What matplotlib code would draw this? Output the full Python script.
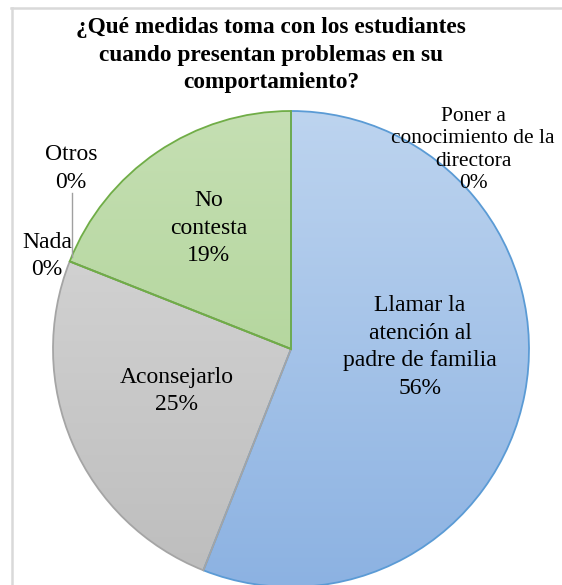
"""Pie chart: medidas que toma con los estudiantes cuando presentan problemas."""

import numpy as np
import matplotlib.pyplot as plt
from matplotlib.colors import LinearSegmentedColormap
from matplotlib.lines import Line2D

labels = ['Poner a\nconocimiento de la\ndirectora', 'Llamar la\natención al\npadre de familia',
          'Aconsejarlo', 'Nada', 'Otros', 'No\ncontesta']
values = [0, 56, 25, 0, 0, 19]
pct_labels = ['0%', '56%', '25%', '0%', '0%', '19%']

# gradient colours (top, bottom) and edge colour per slice
tops = ['#bdd4ef', '#bdd4ef', '#dadada', '#dadada', '#c5dfb3', '#c5dfb3']
bottoms = ['#8cb2e2', '#8cb2e2', '#bdbdbd', '#bdbdbd', '#a6cf8b', '#a6cf8b']
edges = ['#5b9bd5', '#5b9bd5', '#a5a5a5', '#a5a5a5', '#70ad47', '#70ad47']

plt.rcParams['font.family'] = ['Liberation Serif', 'DejaVu Serif']

fig = plt.figure(figsize=(5.62, 5.85), dpi=100)

# light frame (top and left edges only are visible)
fig.add_artist(Line2D([11 / 562, 1], [1 - 8 / 585, 1 - 8 / 585], color='#d9d9d9', lw=1.8))
fig.add_artist(Line2D([12 / 562, 12 / 562], [0, 1 - 8 / 585], color='#d9d9d9', lw=1.8))

ax = fig.add_axes([53 / 562, -2 / 585, 476 / 562, 476 / 585])
wedges, _ = ax.pie(values, startangle=90, counterclock=False, radius=1,
                   wedgeprops=dict(linewidth=1.3))

grad = np.linspace(0, 1, 256).reshape(-1, 1)
for w, t, b, e in zip(wedges, tops, bottoms, edges):
    w.set_facecolor('none')
    w.set_edgecolor(e)
    w.set_zorder(3)
    cmap = LinearSegmentedColormap.from_list('g', [t, b])
    im = ax.imshow(grad, extent=(-1, 1, -1, 1), origin='upper', cmap=cmap,
                   aspect='auto', zorder=1)
    im.set_clip_path(w)

ax.set_xlim(-1, 1)
ax.set_ylim(-1, 1)
ax.set_aspect('equal')
ax.axis('off')

# label positions in units of the radius
pos = [(0.765, 0.836), (0.542, 0.008), (-0.479, -0.176),
       (-1.025, 0.391), (-0.924, 0.758), (-0.345, 0.508)]
sizes = [15.4, 17, 17, 17, 17, 17]
spacing = [1.23, 1.4, 1.4, 1.4, 1.4, 1.4]
for lab, pct, (x, y), fs, ls in zip(labels, pct_labels, pos, sizes, spacing):
    ax.text(x, y, lab + '\n' + pct, ha='center', va='center', fontsize=fs,
            linespacing=ls, color='black', clip_on=False, zorder=5)

# leader line for "Otros"
ax.plot([-0.920, -0.920], [0.655, 0.386], color='#a0a0a0', lw=1, zorder=4)

fig.text(271 / 562, 1 - 55 / 585, '¿Qué medidas toma con los estudiantes\ncuando presentan problemas en su\ncomportamiento?',
         ha='center', va='center', fontsize=16.8, fontweight='bold', linespacing=1.42)

fig.savefig('out.png', dpi=100)
